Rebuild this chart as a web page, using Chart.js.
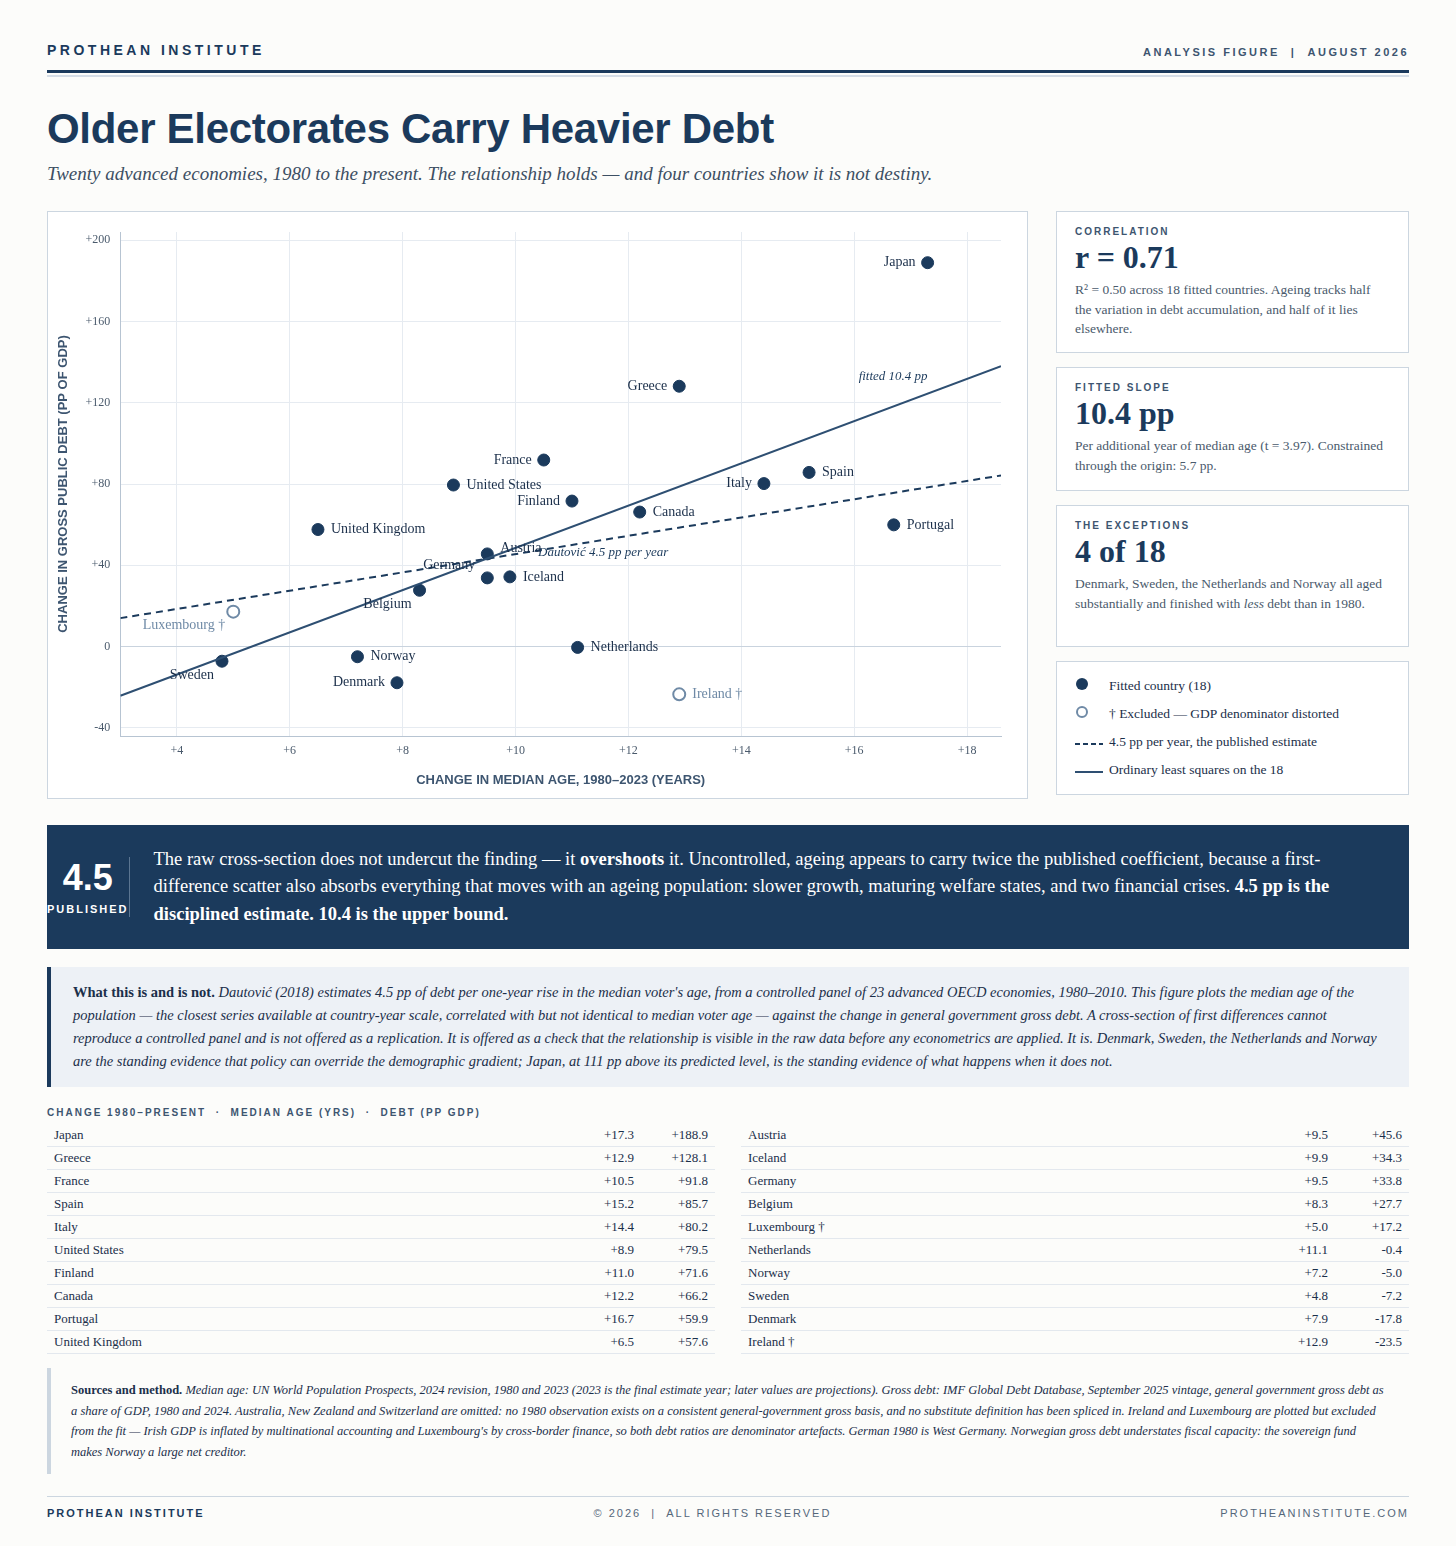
<!DOCTYPE html>
<html><head><meta charset="utf-8">
<script src="https://cdn.jsdelivr.net/npm/chart.js@4"></script>
<style>
body{margin:0;background:#fcfcfa;color:#1b2f4a;font-family:"Liberation Serif",serif;}
.wrap{width:1362px;margin:0 auto;position:relative;}
.top{display:flex;justify-content:space-between;align-items:flex-end;padding-top:42px;padding-bottom:12px;border-bottom:3px solid #1b3a5c;}
.brand{font-family:"Liberation Sans",sans-serif;font-weight:700;letter-spacing:3.5px;font-size:14px;color:#1b3a5c;}
.meta{font-family:"Liberation Sans",sans-serif;font-weight:700;letter-spacing:2.5px;font-size:11px;color:#3d5570;}
.rule2{height:2px;background:#d5dde6;margin-top:2px;}
h1{font-family:"Liberation Sans",sans-serif;font-size:42px;color:#1b3a5c;margin:28px 0 10px;font-weight:700;letter-spacing:-0.3px;}
.sub{font-style:italic;font-size:19px;color:#3d4f63;}
.row{display:flex;margin-top:26px;gap:28px;}
.chartbox{width:979px;height:586px;border:1px solid #ccd6e0;background:#fff;position:relative;}
.side{width:353px;display:flex;flex-direction:column;gap:14px;}
.card{border:1px solid #ccd6e0;background:#fff;padding:14px 18px;box-sizing:border-box;}
.lab{font-family:"Liberation Sans",sans-serif;font-weight:700;font-size:10px;letter-spacing:2px;color:#3d5570;}
.big{font-size:32px;font-weight:700;color:#1b3a5c;margin:2px 0 4px;}
.txt{font-size:13.5px;color:#4a5a6c;line-height:19.5px;}
.leg div{font-size:13.5px;display:flex;align-items:center;height:28px;color:#1b2f4a;}
.leg span.m{width:34px;display:inline-block;}
.band{background:#1b3a5c;color:#fff;margin-top:26px;display:flex;align-items:center;padding:20px 30px 20px 0;height:84px;}
.band .n{width:134px;text-align:center;border-right:1px solid #5b7591;margin-right:24px;}
.band .n b{font-family:"Liberation Sans",sans-serif;font-size:36px;display:block;}
.band .n small{font-family:"Liberation Sans",sans-serif;font-size:11px;letter-spacing:2px;font-weight:700;}
.band p{margin:0;font-size:18.5px;line-height:27.5px;}
.note{background:#edf1f6;border-left:4px solid #1b3a5c;margin-top:18px;padding:14px 22px;font-size:14.5px;line-height:23px;font-style:italic;}
.note b{font-style:normal;}
.thead{font-family:"Liberation Sans",sans-serif;font-size:10px;letter-spacing:2px;font-weight:700;color:#3d5570;margin-top:20px;}
.tables{display:flex;gap:26px;margin-top:6px;}
table{width:668px;border-collapse:collapse;font-size:13px;}
td{padding:3px 7px;border-bottom:1px solid #e3e8ee;height:16px;}
td.v{text-align:right;width:60px;}
.src{border-left:4px solid #ccd6e0;margin-top:14px;padding:12px 20px;font-size:12.5px;line-height:20.5px;font-style:italic;}
.src b{font-style:normal;}
.foot{display:flex;justify-content:space-between;border-top:1px solid #ccd6e0;margin-top:22px;padding-top:10px;font-family:"Liberation Sans",sans-serif;font-size:11px;letter-spacing:2px;color:#55677a;}
</style></head><body><div class="wrap">
<div class="top"><div class="brand">PROTHEAN INSTITUTE</div><div class="meta">ANALYSIS FIGURE &nbsp;| &nbsp;AUGUST 2026</div></div>
<div class="rule2"></div>
<h1>Older Electorates Carry Heavier Debt</h1>
<div class="sub">Twenty advanced economies, 1980 to the present. The relationship holds — and four countries show it is not destiny.</div>
<div class="row">
<div class="chartbox"><canvas id="c"></canvas></div>
<div class="side">
<div class="card" style="height:142px"><div class="lab">CORRELATION</div><div class="big">r = 0.71</div><div class="txt">R² = 0.50 across 18 fitted countries. Ageing tracks half the variation in debt accumulation, and half of it lies elsewhere.</div></div>
<div class="card" style="height:124px"><div class="lab">FITTED SLOPE</div><div class="big">10.4 pp</div><div class="txt">Per additional year of median age (t = 3.97). Constrained through the origin: 5.7 pp.</div></div>
<div class="card" style="height:142px"><div class="lab">THE EXCEPTIONS</div><div class="big">4 of 18</div><div class="txt">Denmark, Sweden, the Netherlands and Norway all aged substantially and finished with <i>less</i> debt than in 1980.</div></div>
<div class="card leg" style="height:134px;padding-top:10px">
<div><span class="m"><svg width="14" height="14"><circle cx="7" cy="7" r="6" fill="#1b3a5c"/></svg></span>Fitted country (18)</div>
<div><span class="m"><svg width="14" height="14"><circle cx="7" cy="7" r="5" fill="none" stroke="#6f8aa6" stroke-width="2"/></svg></span>† Excluded — GDP denominator distorted</div>
<div><span class="m"><svg width="28" height="4"><line x1="0" y1="2" x2="28" y2="2" stroke="#1b3a5c" stroke-width="2" stroke-dasharray="5,3"/></svg></span>4.5 pp per year, the published estimate</div>
<div><span class="m"><svg width="28" height="4"><line x1="0" y1="2" x2="28" y2="2" stroke="#2e4f72" stroke-width="2"/></svg></span>Ordinary least squares on the 18</div>
</div>
</div></div>
<div class="band"><div class="n"><b>4.5</b><small>PUBLISHED</small></div>
<p>The raw cross-section does not undercut the finding — it <b>overshoots</b> it. Uncontrolled, ageing appears to carry twice the published coefficient, because a first-difference scatter also absorbs everything that moves with an ageing population: slower growth, maturing welfare states, and two financial crises. <b>4.5 pp is the disciplined estimate. 10.4 is the upper bound.</b></p></div>
<div class="note"><b>What this is and is not.</b> Dautović (2018) estimates 4.5 pp of debt per one-year rise in the median voter's age, from a controlled panel of 23 advanced OECD economies, 1980–2010. This figure plots the median age of the population — the closest series available at country-year scale, correlated with but not identical to median voter age — against the change in general government gross debt. A cross-section of first differences cannot reproduce a controlled panel and is not offered as a replication. It is offered as a check that the relationship is visible in the raw data before any econometrics are applied. It is. Denmark, Sweden, the Netherlands and Norway are the standing evidence that policy can override the demographic gradient; Japan, at 111 pp above its predicted level, is the standing evidence of what happens when it does not.</div>
<div class="thead">CHANGE 1980–PRESENT &nbsp;· &nbsp;MEDIAN AGE (YRS) &nbsp;· &nbsp;DEBT (PP GDP)</div>
<div class="tables"><table id="t1"></table><table id="t2"></table></div>
<div class="src"><b>Sources and method.</b> Median age: UN World Population Prospects, 2024 revision, 1980 and 2023 (2023 is the final estimate year; later values are projections). Gross debt: IMF Global Debt Database, September 2025 vintage, general government gross debt as a share of GDP, 1980 and 2024. Australia, New Zealand and Switzerland are omitted: no 1980 observation exists on a consistent general-government gross basis, and no substitute definition has been spliced in. Ireland and Luxembourg are plotted but excluded from the fit — Irish GDP is inflated by multinational accounting and Luxembourg's by cross-border finance, so both debt ratios are denominator artefacts. German 1980 is West Germany. Norwegian gross debt understates fiscal capacity: the sovereign fund makes Norway a large net creditor.</div>
<div class="foot"><b style="color:#1b3a5c">PROTHEAN INSTITUTE</b><span>© 2026 &nbsp;| &nbsp;ALL RIGHTS RESERVED</span><span>PROTHEANINSTITUTE.COM</span></div>
<div style="height:30px"></div>
</div>
<script>
const countries = ['Japan','Greece','France','Spain','Italy','United States','Finland','Canada','Portugal','United Kingdom','Austria','Iceland','Germany','Belgium','Luxembourg †','Netherlands','Norway','Sweden','Denmark','Ireland †'];
const ageChange = [17.3,12.9,10.5,15.2,14.4,8.9,11.0,12.2,16.7,6.5,9.5,9.9,9.5,8.3,5.0,11.1,7.2,4.8,7.9,12.9];
const debtChange = [188.9,128.1,91.8,85.7,80.2,79.5,71.6,66.2,59.9,57.6,45.6,34.3,33.8,27.7,17.2,-0.4,-5.0,-7.2,-17.8,-23.5];
const excluded = [false,false,false,false,false,false,false,false,false,false,false,false,false,false,true,false,false,false,false,true];
// label side: l / r, with small vertical nudges
const labelSide = ['l','l','l','r','l','r','l','r','r','r','ar','r','al','bl','bl','r','r','bl','l','r'];
const xTicks = [4,6,8,10,12,14,16,18];
const yTicks = [-40,0,40,80,120,160,200];
const olsLine = [{x:3,y:-24.2},{x:18.6,y:138}];
const pubLine = [{x:3,y:14},{x:18.6,y:84.2}];

const fmt = v => (v > 0 ? '+' : '') + v.toFixed(1);
function fillTable(id, from, to) {
  let h = '';
  for (let i = from; i < to; i++) h += `<tr><td>${countries[i]}</td><td class="v">${fmt(ageChange[i])}</td><td class="v">${fmt(debtChange[i])}</td></tr>`;
  document.getElementById(id).innerHTML = h;
}
fillTable('t1', 0, 10); fillTable('t2', 10, 20);

const pts = countries.map((c, i) => ({x: ageChange[i], y: debtChange[i]}));
const serif = '"Liberation Serif", serif';

const labelPlugin = {
  id: 'labels',
  afterDatasetsDraw(chart) {
    const {ctx, scales: {x, y}} = chart;
    ctx.save();
    ctx.font = '14px ' + serif;
    ctx.textBaseline = 'middle';
    pts.forEach((p, i) => {
      const px = x.getPixelForValue(p.x), py = y.getPixelForValue(p.y);
      const s = labelSide[i];
      ctx.fillStyle = excluded[i] ? '#6f8aa6' : '#1b2f4a';
      if (s === 'l') { ctx.textAlign = 'right'; ctx.fillText(countries[i], px - 12, py); }
      else if (s === 'r') { ctx.textAlign = 'left'; ctx.fillText(countries[i], px + 13, py); }
      else if (s === 'ar') { ctx.textAlign = 'left'; ctx.fillText(countries[i], px + 13, py - 6); }
      else if (s === 'al') { ctx.textAlign = 'right'; ctx.fillText(countries[i], px - 12, py - 13); }
      else { ctx.textAlign = 'right'; ctx.fillText(countries[i], px - 8, py + 14); }
    });
    ctx.font = 'italic 13px ' + serif;
    ctx.fillStyle = '#1b3a5c';
    ctx.textAlign = 'right';
    ctx.fillText('fitted 10.4 pp', x.getPixelForValue(17.3), y.getPixelForValue(133));
    ctx.textAlign = 'left';
    ctx.fillText('Dautović 4.5 pp per year', x.getPixelForValue(10.4), y.getPixelForValue(46.5));
    ctx.restore();
  }
};

new Chart(document.getElementById('c'), {
  type: 'scatter',
  data: {datasets: [
    {type: 'line', data: olsLine, borderColor: '#2e4f72', borderWidth: 2, pointRadius: 0},
    {type: 'line', data: pubLine, borderColor: '#1b3a5c', borderWidth: 2, borderDash: [7, 5], pointRadius: 0},
    {data: pts, pointRadius: 6, pointHoverRadius: 6,
     backgroundColor: pts.map((p, i) => excluded[i] ? '#ffffff' : '#1b3a5c'),
     borderColor: pts.map((p, i) => excluded[i] ? '#6f8aa6' : '#1b3a5c'),
     borderWidth: pts.map((p, i) => excluded[i] ? 2 : 1)}
  ]},
  options: {
    responsive: true, maintainAspectRatio: false, animation: false,
    layout: {padding: {top: 20, right: 26, left: 4, bottom: 6}},
    plugins: {legend: {display: false}, tooltip: {enabled: false}},
    scales: {
      x: {type: 'linear', min: 3, max: 18.6,
        afterBuildTicks: a => { a.ticks = xTicks.map(v => ({value: v})); },
        ticks: {callback: v => '+' + v, color: '#4a5a6c', font: {family: serif, size: 12}, padding: 8},
        grid: {color: '#e6ebf1', drawTicks: false}, border: {color: '#b7c4d2'},
        title: {display: true, text: 'CHANGE IN MEDIAN AGE, 1980–2023 (YEARS)', color: '#3d5570',
          font: {family: '"Liberation Sans", sans-serif', size: 13, weight: 'bold'}, padding: {top: 6}}},
      y: {min: -44, max: 204,
        afterBuildTicks: a => { a.ticks = yTicks.map(v => ({value: v})); },
        ticks: {callback: v => v > 0 ? '+' + v : '' + v, color: '#4a5a6c', font: {family: serif, size: 12}, padding: 10},
        grid: {color: v => v.tick && v.tick.value === 0 ? '#c9d3de' : '#e6ebf1', drawTicks: false}, border: {color: '#b7c4d2'},
        title: {display: true, text: 'CHANGE IN GROSS PUBLIC DEBT (PP OF GDP)', color: '#3d5570',
          font: {family: '"Liberation Sans", sans-serif', size: 13, weight: 'bold'}}}
    }
  },
  plugins: [labelPlugin]
});
</script></body></html>
